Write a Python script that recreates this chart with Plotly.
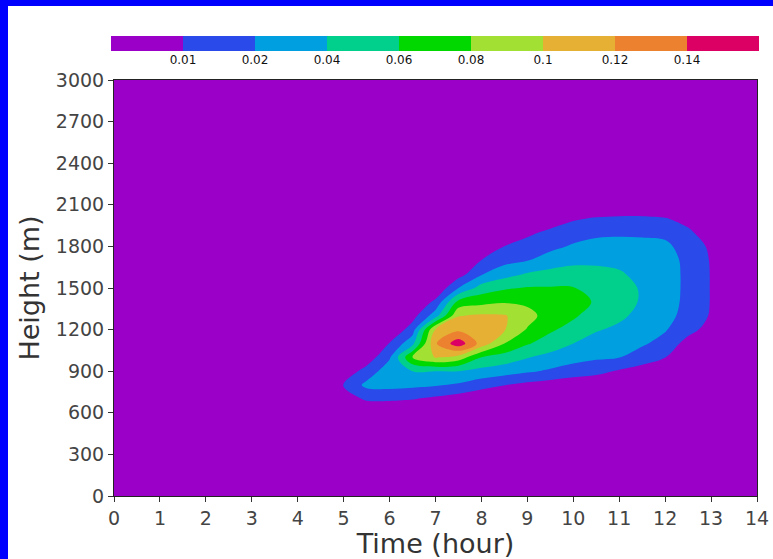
import numpy as np
import plotly.graph_objects as go

# ---- data -------------------------------------------------------------
time_hours = [4.5, 5.0, 5.5, 6.0, 6.5, 7.0, 7.5, 8.0, 8.5, 9.0, 9.5,
              10.0, 10.5, 11.0, 11.5, 12.0, 12.5, 13.0, 13.5]
height_m = [500, 600, 700, 800, 900, 1000, 1100, 1200, 1300, 1400, 1500,
            1600, 1700, 1800, 1900, 2000, 2100, 2200]

# concentration, one row per height, one column per time
concentration = [
    # 4.5   5.0    5.5    6.0    6.5    7.0    7.5    8.0    8.5    9.0    9.5    10.0   10.5   11.0   11.5   12.0   12.5   13.0  13.5
    [0,     0,     0,     0,     0,     0,     0,     0,     0,     0,     0,     0,     0,     0,     0,     0,     0,     0,    0],      # 500
    [0,     0,     0.001, 0,     0,     0,     0,     0,     0,     0,     0,     0,     0,     0,     0,     0,     0,     0,    0],      # 600
    [0.003, 0.005, 0.0113,0.0117,0.0105,0.0078,0.005, 0.001, 0,     0,     0,     0,     0,     0,     0,     0,     0,     0,    0],      # 700
    [0.004, 0.0105,0.0252,0.0266,0.0246,0.0218,0.0185,0.0141,0.0102,0.0072,0.005, 0.0033,0.0028,0,     0,     0,     0,     0,    0],      # 800
    [0.002, 0.0035,0.014, 0.0318,0.04,  0.04,  0.04,  0.0336,0.0288,0.0228,0.0185,0.0153,0.0128,0.0089,0.005, 0,     0,     0,    0],      # 900
    [0,     0,     0.004, 0.0187,0.08,  0.1016,0.092, 0.06,  0.0512,0.041, 0.0338,0.0278,0.0232,0.0204,0.0158,0.0102,0,     0,    0],      # 1000
    [0,     0,     0,     0.0105,0.034, 0.118, 0.152, 0.112, 0.08,  0.0618,0.051, 0.04,  0.0326,0.0276,0.0224,0.0167,0.006, 0,    0],      # 1100
    [0,     0,     0,     0,     0.0153,0.1016,0.1154,0.119, 0.1016,0.0782,0.063, 0.0526,0.0416,0.0362,0.0272,0.0215,0.0135,0.006,0],      # 1200
    [0,     0,     0,     0,     0.006, 0.031, 0.099, 0.103, 0.1016,0.0886,0.069, 0.063, 0.050, 0.0436,0.0345,0.026, 0.0168,0.009,0],      # 1300
    [0,     0,     0,     0,     0,     0.0122,0.0658,0.0734,0.078, 0.075, 0.0684,0.0692,0.0575,0.048, 0.038, 0.0275,0.0178,0.0095,0],     # 1400
    [0,     0,     0,     0,     0,     0.0011,0.02,  0.0486,0.0575,0.0614,0.0614,0.0608,0.053, 0.0476,0.038, 0.028, 0.018, 0.0095,0],      # 1500
    [0,     0,     0,     0,     0,     0,     0.0056,0.0191,0.0325,0.042, 0.0466,0.048, 0.0452,0.0425,0.034, 0.028, 0.018, 0.0095,0],      # 1600
    [0,     0,     0,     0,     0,     0,     0,     0.0102,0.0167,0.0195,0.029, 0.035, 0.0365,0.0345,0.029, 0.027, 0.0178,0.0092,0],      # 1700
    [0,     0,     0,     0,     0,     0,     0,     0,     0.0101,0.0142,0.0174,0.0225,0.0266,0.0262,0.0238,0.0235,0.0165,0.008,0],      # 1800
    [0,     0,     0,     0,     0,     0,     0,     0,     0,     0.0078,0.0123,0.0153,0.0179,0.0186,0.0189,0.0179,0.012, 0.004,0],      # 1900
    [0,     0,     0,     0,     0,     0,     0,     0,     0,     0,     0.0039,0.0089,0.011, 0.0117,0.0118,0.0107,0.0065,0,    0],      # 2000
    [0,     0,     0,     0,     0,     0,     0,     0,     0,     0,     0,     0,     0.0006,0.0017,0.0017,0,     0,     0,    0],      # 2100
    [0,     0,     0,     0,     0,     0,     0,     0,     0,     0,     0,     0,     0,     0,     0,     0,     0,     0,    0],      # 2200
]

level_bounds = [0.0, 0.01, 0.02, 0.04, 0.06, 0.08, 0.10, 0.12, 0.14, 0.16]
level_labels = ["0.01", "0.02", "0.04", "0.06", "0.08", "0.1", "0.12", "0.14"]
band_colors = ["#9B00C8", "#2A4AEA", "#00A0E0", "#00D08C", "#00D800",
               "#A2E034", "#E6B034", "#EC8230", "#DC0064"]

x_ticks = list(range(0, 15))
y_ticks = list(range(0, 3001, 300))

# ---- build -------------------------------------------------------------
conc = np.array(concentration, dtype=float)
band_index = np.interp(conc, level_bounds, np.arange(len(level_bounds)))

n = len(band_colors)
colorscale = [[i / (n - 1), c] for i, c in enumerate(band_colors)]

W, H = 773, 559
ml, mr, mt, mb = 111, 14, 36, 63
pw = W - ml - mr
ph = H - mt - mb
main_top = (496 - 80) / ph
cb_bottom = (496 - 51) / ph
x_dom = [(114 - ml) / pw, (757 - ml) / pw]

fig = go.Figure()
fig.add_trace(go.Contour(
    x=time_hours, y=height_m, z=band_index,
    colorscale=colorscale, showscale=False,
    contours=dict(start=1, end=len(level_labels), size=1, coloring="fill", showlines=False),
    line=dict(width=0, smoothing=1.0),
    xaxis="x", yaxis="y", hoverinfo="skip",
))

# colour bar drawn as a separate strip
fig.add_trace(go.Heatmap(
    z=[list(range(n))], x=[i + 0.5 for i in range(n)], y=[0],
    colorscale=colorscale, zmin=0, zmax=n - 1, showscale=False,
    xaxis="x2", yaxis="y2", hoverinfo="skip",
))

tick_font = dict(family="DejaVu Sans", size=19, color="#444444")
title_font = dict(family="DejaVu Sans", size=27, color="#333333")
fig.update_layout(
    width=W, height=H,
    margin=dict(l=ml, r=mr, t=mt, b=mb, pad=0, autoexpand=False),
    paper_bgcolor="white", plot_bgcolor="white",
    showlegend=False,
    xaxis=dict(domain=x_dom, range=[0, 14], tickvals=x_ticks, ticks="outside",
               ticklen=5, tickcolor="#333", showline=True, linecolor="#222",
               linewidth=1, mirror=True, showgrid=False, zeroline=False,
               tickfont=tick_font, automargin=False,
               title=dict(text="Time (hour)", font=title_font, standoff=6),
               anchor="y"),
    yaxis=dict(domain=[0, main_top], range=[0, 3000], tickvals=y_ticks, ticks="outside",
               ticklen=5, tickcolor="#333", showline=True, linecolor="#222",
               linewidth=1, mirror=True, showgrid=False, zeroline=False,
               tickfont=tick_font, automargin=False,
               title=dict(text="Height (m)", font=title_font, standoff=8),
               anchor="x"),
    xaxis2=dict(domain=[0, 1], range=[0, n], tickvals=list(range(1, n)),
                ticktext=level_labels, ticks="", showgrid=False, zeroline=False,
                showline=False, tickfont=dict(family="DejaVu Sans", size=12, color="#111"),
                automargin=False, anchor="y2"),
    yaxis2=dict(domain=[cb_bottom, 1], range=[-0.5, 0.5], showticklabels=False,
                ticks="", showgrid=False, zeroline=False, showline=False,
                automargin=False, anchor="x2"),
)

# purple background of the plot region (lowest band)
fig.add_shape(type="rect", xref="x", yref="y", layer="below",
              x0=0, x1=14, y0=0, y1=3000, fillcolor=band_colors[0], line=dict(width=0))

# blue frame on the left and top edges of the picture
fig.add_shape(type="rect", xref="paper", yref="paper", layer="above",
              x0=-ml / pw, x1=(8 - ml) / pw, y0=-mb / ph, y1=(H - mb) / ph,
              fillcolor="#0000FF", line=dict(width=0))
fig.add_shape(type="rect", xref="paper", yref="paper", layer="above",
              x0=-ml / pw, x1=(W - ml) / pw, y0=(H - mb - 6) / ph, y1=(H - mb) / ph,
              fillcolor="#0000FF", line=dict(width=0))

fig.write_html("out.html", config={"displayModeBar": False},
               post_script="document.body.style.margin='0';document.body.style.overflow='hidden';")
